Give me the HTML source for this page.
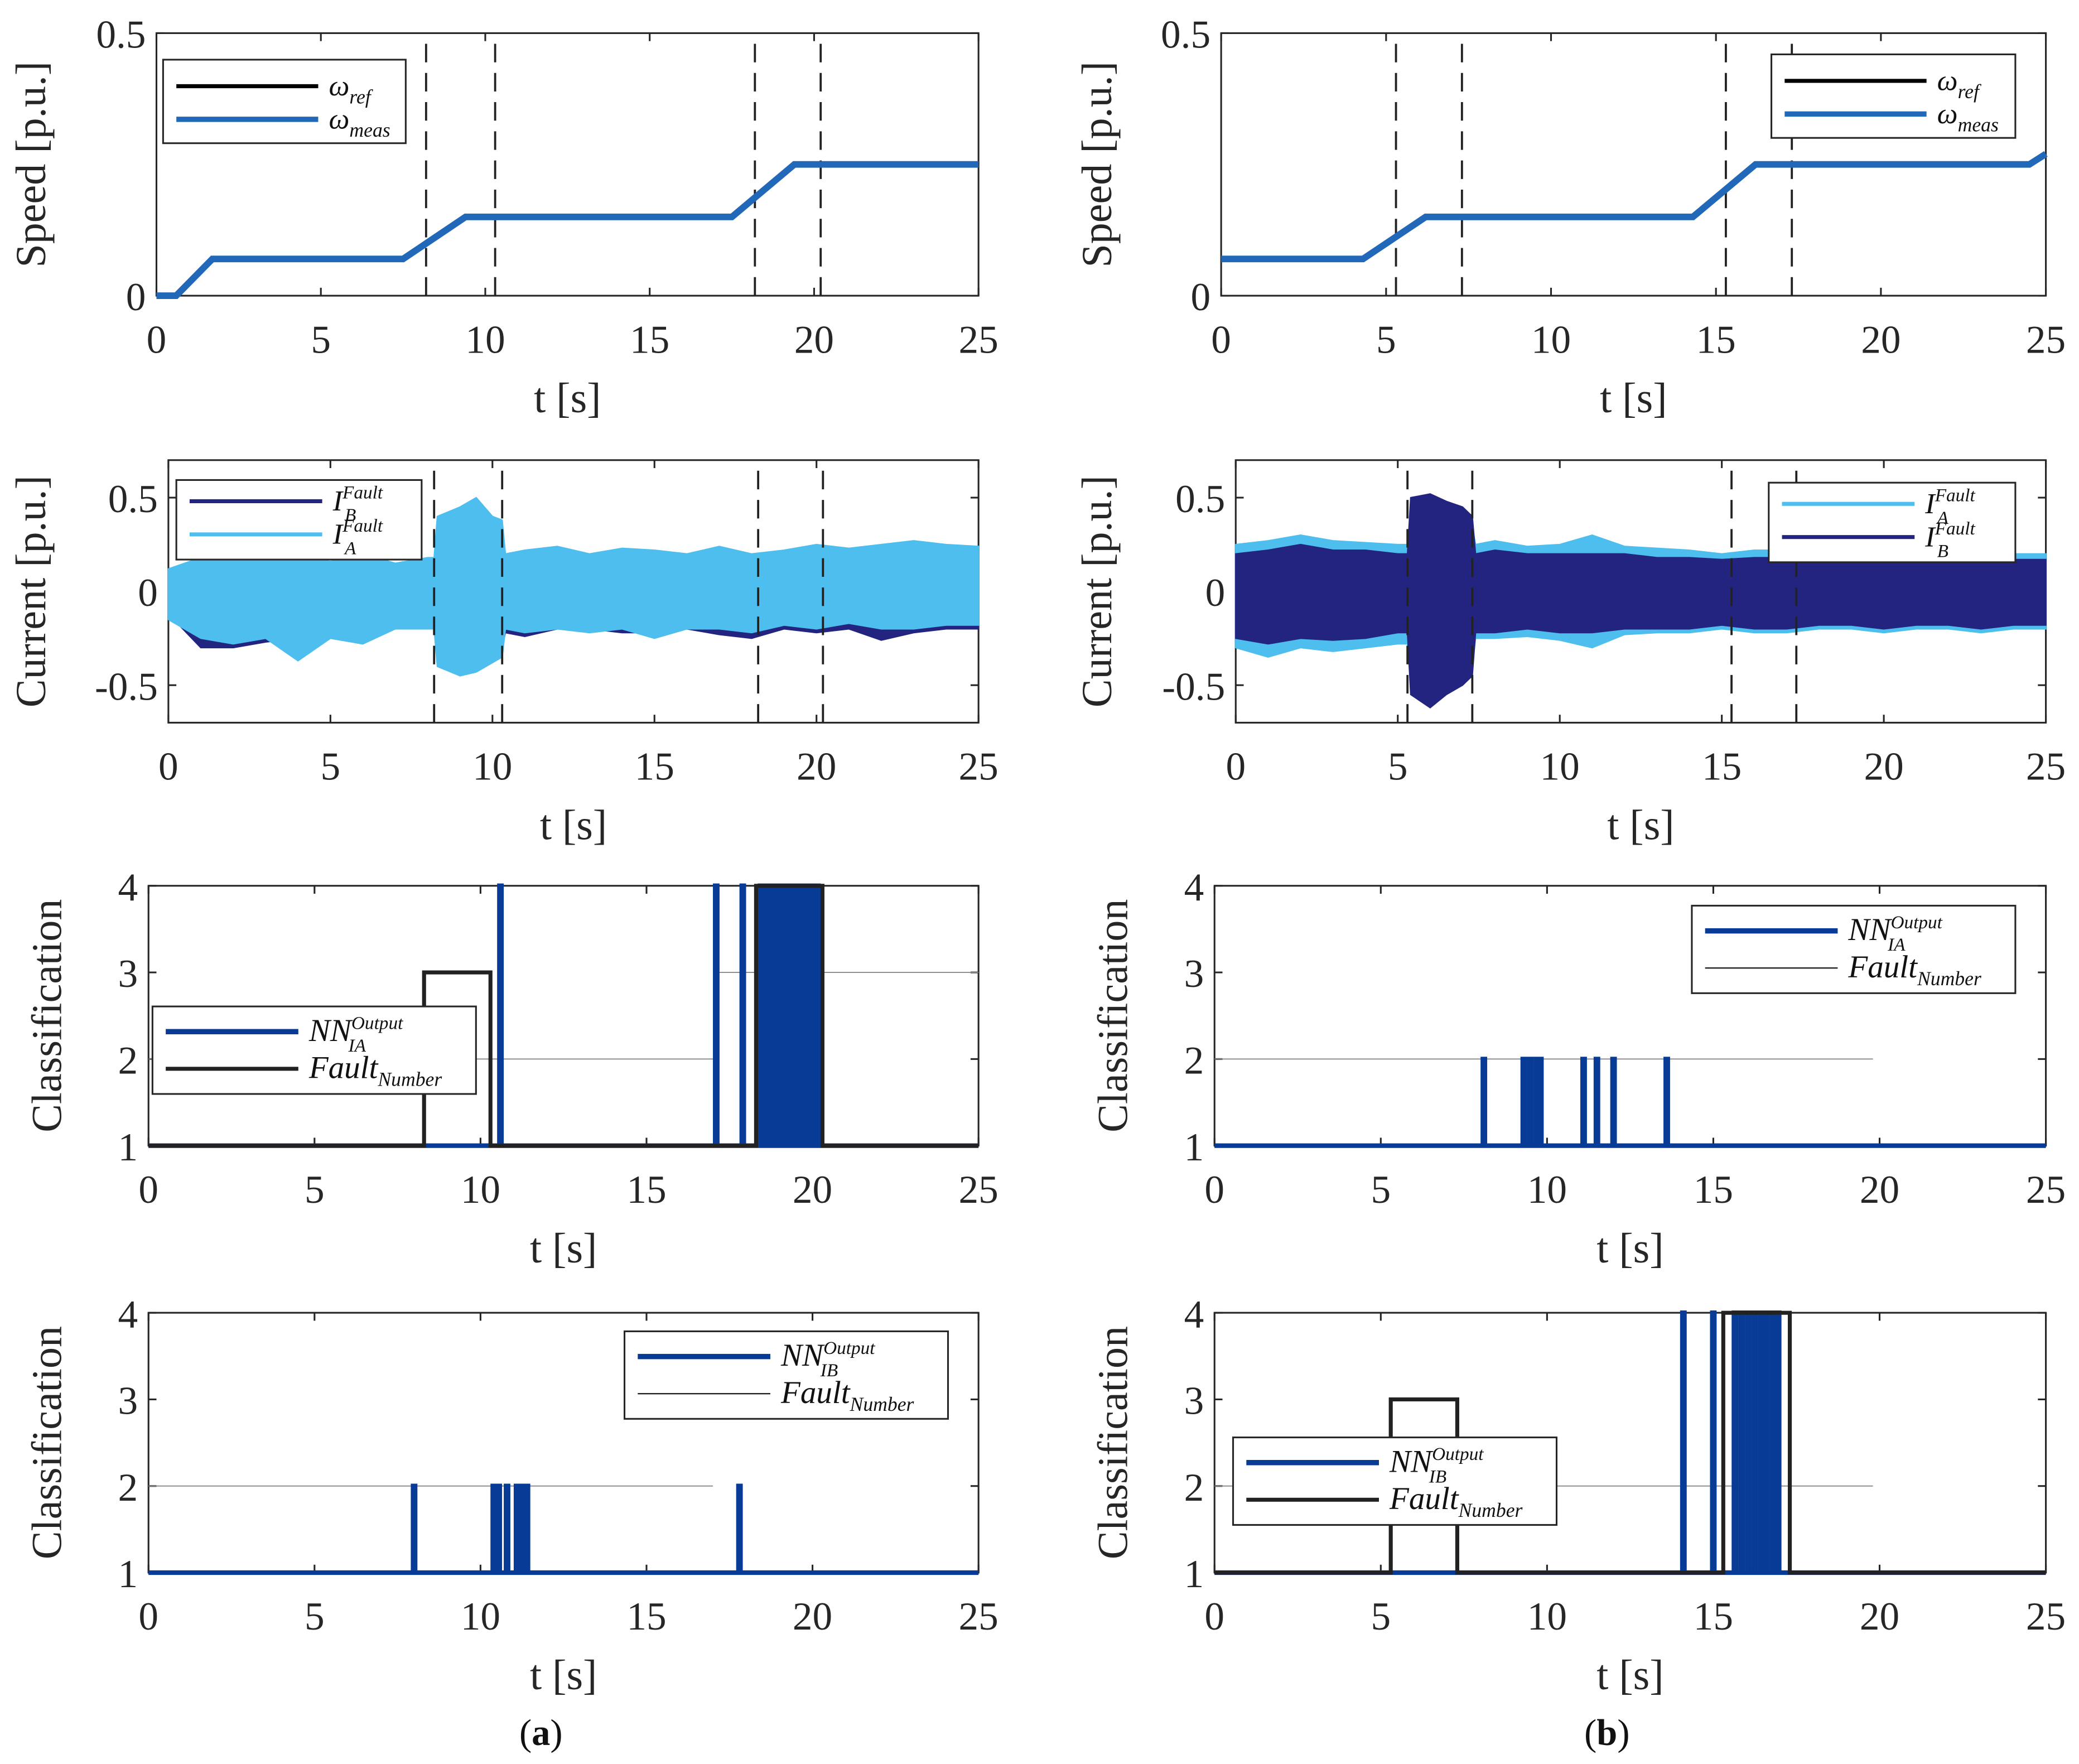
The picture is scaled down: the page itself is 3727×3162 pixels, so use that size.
<!DOCTYPE html>
<html><head><meta charset="utf-8"><style>
html,body{margin:0;padding:0;background:#fff;}
svg{display:block;font-family:"Liberation Serif",serif;}
</style></head><body>
<svg id="fig" xmlns="http://www.w3.org/2000/svg" width="3727" height="3162" viewBox="0 0 1568 1330.3"></svg>
<script>
// ---------- data ----------
const speedA_t = [0,0.6,1.7,7.5,9.4,17.5,19.4,25];
const speedA_v = [0,0,0.07,0.07,0.15,0.15,0.25,0.25];
const speedB_t = [0,4.3,6.2,14.3,16.2,24.5,25];
const speedB_v = [0.07,0.07,0.15,0.15,0.25,0.25,0.27];
const faultLinesA = [8.2,10.3,18.2,20.2];
const faultLinesB = [5.3,7.3,15.3,17.3];

const curA_t = [0,1,2,3,4,5,6,7,8,8.2,8.3,9,9.5,10,10.3,10.4,11,12,13,14,15,16,17,18,19,20,21,22,23,24,25];
const curA_IA_up = [0.12,0.18,0.2,0.17,0.19,0.16,0.2,0.15,0.18,0.18,0.4,0.45,0.5,0.4,0.38,0.2,0.22,0.24,0.2,0.23,0.22,0.2,0.24,0.2,0.22,0.25,0.23,0.25,0.27,0.25,0.24];
const curA_IA_lo = [-0.15,-0.25,-0.28,-0.25,-0.37,-0.25,-0.28,-0.2,-0.2,-0.2,-0.4,-0.45,-0.43,-0.38,-0.35,-0.2,-0.22,-0.2,-0.22,-0.2,-0.25,-0.2,-0.2,-0.22,-0.18,-0.2,-0.17,-0.2,-0.2,-0.18,-0.18];
const curA_IB_up = [0.1,0.14,0.15,0.13,0.14,0.12,0.15,0.12,0.14,0.14,0.3,0.35,0.35,0.3,0.3,0.16,0.18,0.2,0.18,0.19,0.18,0.18,0.2,0.19,0.2,0.22,0.2,0.21,0.22,0.2,0.2];
const curA_IB_lo = [-0.12,-0.3,-0.3,-0.27,-0.25,-0.22,-0.25,-0.2,-0.18,-0.18,-0.3,-0.35,-0.35,-0.3,-0.3,-0.22,-0.24,-0.2,-0.2,-0.22,-0.22,-0.2,-0.23,-0.25,-0.2,-0.22,-0.2,-0.26,-0.22,-0.2,-0.2];

const curB_t = [0,1,2,3,4,5,5.3,5.4,6,6.5,7,7.3,7.4,8,9,10,11,12,13,14,15,16,17,18,19,20,21,22,23,24,25];
const curB_IA_up = [0.25,0.27,0.3,0.27,0.26,0.25,0.25,0.4,0.45,0.4,0.38,0.35,0.25,0.27,0.24,0.25,0.3,0.24,0.23,0.22,0.2,0.22,0.22,0.2,0.2,0.22,0.21,0.2,0.22,0.2,0.2];
const curB_IA_lo = [-0.3,-0.35,-0.3,-0.32,-0.3,-0.28,-0.28,-0.45,-0.5,-0.45,-0.42,-0.4,-0.25,-0.25,-0.24,-0.26,-0.3,-0.23,-0.22,-0.22,-0.2,-0.22,-0.22,-0.2,-0.2,-0.22,-0.2,-0.2,-0.22,-0.2,-0.2];
const curB_IB_up = [0.2,0.22,0.25,0.22,0.22,0.2,0.2,0.5,0.52,0.48,0.45,0.4,0.2,0.22,0.2,0.2,0.2,0.2,0.18,0.18,0.17,0.18,0.18,0.17,0.17,0.18,0.17,0.17,0.18,0.17,0.17];
const curB_IB_lo = [-0.25,-0.28,-0.25,-0.26,-0.25,-0.22,-0.22,-0.55,-0.62,-0.55,-0.5,-0.45,-0.22,-0.22,-0.2,-0.22,-0.22,-0.2,-0.2,-0.2,-0.18,-0.2,-0.2,-0.18,-0.18,-0.2,-0.18,-0.18,-0.2,-0.18,-0.18];

const faultA3_t = [0,8.3,8.3,10.3,10.3,18.3,18.3,20.3,20.3,25];
const faultA3_v = [1,1,3,3,1,1,4,4,1,1];
const nnA3_spikes = [10.6,17.1,17.9,18.45,18.6,18.75,18.9,19.05,19.15,19.3,19.45,19.55,19.7,19.9,20.05,20.15];
const nnA3_level = 4;
const faultB3_t = [0,25];
const faultB3_v = [1,1];
const nnB3_spikes = [8.1,9.3,9.5,9.7,9.8,11.1,11.5,12.0,13.6];
const nnB3_level = 2;
const faultA4_t = [0,25];
const faultA4_v = [1,1];
const nnA4_spikes = [8.0,10.4,10.55,10.8,11.1,11.3,11.4,17.8];
const nnA4_level = 2;
const faultB4_t = [0,5.3,5.3,7.3,7.3,15.3,15.3,17.3,17.3,25];
const faultB4_v = [1,1,3,3,1,1,4,4,1,1];
const nnB4_spikes = [14.1,15.0,15.65,15.85,16.05,16.25,16.45,16.6,16.8,16.95];
const nnB4_level = 4;

const xTicks = [0,5,10,15,20,25];
const speedTicks = [0,0.5];
const curTicks = [-0.5,0,0.5];
const clsTicks = [1,2,3,4];

// ---------- helpers ----------
const NS = "http://www.w3.org/2000/svg";
const svg = document.getElementById('fig');
function el(tag, attrs, parent){
  const e = document.createElementNS(NS, tag);
  for (const k in attrs) e.setAttribute(k, attrs[k]);
  (parent||svg).appendChild(e);
  return e;
}
function makeAxes(name, x0, x1, y0, y1, ymin, ymax){
  const g = el('g', {});
  
  
  const sx = v => x0 + (v-0)/(25-0)*(x1-x0);
  const sy = v => y1 - (v-ymin)/(ymax-ymin)*(y1-y0);
  return {g, sx, sy, x0, x1, y0, y1};
}
function frame(ax, yticks, ylabels, ylabelText, ylabelX){
  const {g, x0, x1, y0, y1, sx, sy} = ax;
  const box = el('rect', {x:x0, y:y0, width:x1-x0, height:y1-y0, fill:'none', stroke:'#262626', 'stroke-width':1.3}, g);
  
  
  xTicks.forEach(t => {
    const x = sx(t);
    el('line', {x1:x, x2:x, y1:y1, y2:y1-6, stroke:'#262626', 'stroke-width':1.3}, g);
    el('line', {x1:x, x2:x, y1:y0, y2:y0+6, stroke:'#262626', 'stroke-width':1.3}, g);
    const tl = el('text', {x:x, y:y1+43, 'font-size':30, 'text-anchor':'middle', fill:'#262626'}, g);
    tl.textContent = t;
    
    
  });
  yticks.forEach((t,i) => {
    const y = sy(t);
    el('line', {x1:x0, x2:x0+6, y1:y, y2:y, stroke:'#262626', 'stroke-width':1.3}, g);
    el('line', {x1:x1, x2:x1-6, y1:y, y2:y, stroke:'#262626', 'stroke-width':1.3}, g);
    const tl = el('text', {x:x0-8, y:y+11, 'font-size':30, 'text-anchor':'end', fill:'#262626'}, g);
    tl.textContent = ylabels[i];
    
    
  });
  const xl = el('text', {x:(x0+x1)/2, y:y1+88, 'font-size':32, 'text-anchor':'middle', fill:'#262626'}, g);
  xl.textContent = 't  [s]';
  
  
  const cy = (y0+y1)/2;
  const yl = el('text', {x:ylabelX, y:cy, 'font-size':32, 'text-anchor':'middle', fill:'#262626', transform:`rotate(-90 ${ylabelX} ${cy})`}, g);
  yl.textContent = ylabelText;
  
  
}
function linePath(ax, ts, vs){
  return ts.map((t,i)=> (i?'L':'M') + ax.sx(t).toFixed(2) + ',' + ax.sy(vs[i]).toFixed(2)).join(' ');
}
function bandPath(ax, ts, up, lo){
  let d = ts.map((t,i)=> (i?'L':'M') + ax.sx(t).toFixed(2)+','+ax.sy(up[i]).toFixed(2)).join(' ');
  for (let i=ts.length-1;i>=0;i--) d += ' L'+ax.sx(ts[i]).toFixed(2)+','+ax.sy(lo[i]).toFixed(2);
  return d + ' Z';
}
function spikePath(ax, spikes, level){
  let d = 'M'+ax.sx(0)+','+ax.sy(1);
  spikes.forEach(t => {
    d += ' L'+ax.sx(t-0.03).toFixed(2)+','+ax.sy(1)+' L'+ax.sx(t-0.03).toFixed(2)+','+ax.sy(level)+' L'+ax.sx(t+0.03).toFixed(2)+','+ax.sy(level)+' L'+ax.sx(t+0.03).toFixed(2)+','+ax.sy(1);
  });
  return d + ' L'+ax.sx(25)+','+ax.sy(1);
}
function dashed(ax, lines){
  lines.forEach(t => {
    const l = el('line', {x1:ax.sx(t), x2:ax.sx(t), y1:ax.y0+8, y2:ax.y1, stroke:'#222', 'stroke-width':1.6, 'stroke-dasharray':'14,8'}, ax.g);
    
    
  });
}
function legend(x, y, w, h, entries){
  const g = el('g', {});
  
  
  el('rect', {x:x, y:y, width:w, height:h, fill:'#fff', stroke:'#262626', 'stroke-width':1.3}, g);
  entries.forEach(e => {
    const ln = el('line', {x1:x+10, x2:x+e.len, y1:e.y, y2:e.y, stroke:e.color, 'stroke-width':e.sw}, g);
    
    
    const tx = x+e.len+8;
    const t = el('text', {x:tx, y:e.y+7, 'font-size':e.fs||22, 'font-style':'italic', fill:'#111'}, g);
    
    
    const a = el('tspan', {}, t); a.textContent = e.main;
    if (e.sup){
      const s = el('tspan', {dy:-9, 'font-size':14}, t); s.textContent = e.sup;
      const mw = e.main.length*(e.fs ? e.fs*0.62 : 9);
      const s2 = el('tspan', {x:tx+mw, dy:17, 'font-size':14}, t); s2.textContent = e.sub;
    }
    else if (e.sub){ const s = el('tspan', {dy:6, 'font-size':15}, t); s.textContent = e.sub; }
  });
}

// ---------- speed ----------
[['a',118,738,speedA_t,speedA_v,faultLinesA,[123,45,183,63]],['b',921,1543,speedB_t,speedB_v,faultLinesB,[1336,41,184,63]]].forEach(p=>{
  const ax = makeAxes('speed-chart-'+p[0], p[1], p[2], 25, 223, 0, 0.5);
  frame(ax, speedTicks, ['0','0.5'], 'Speed [p.u.]', p[0]==='a'?34:838);
  dashed(ax, p[5]);
  const r = el('path', {d:linePath(ax,p[3],p[4]), fill:'none', stroke:'#000', 'stroke-width':2}, ax.g);
   
  const m = el('path', {d:linePath(ax,p[3],p[4]), fill:'none', stroke:'#2268b8', 'stroke-width':5}, ax.g);
   
  const L = p[6];
  legend(L[0],L[1],L[2],L[3],[{y:L[1]+20,len:117,color:'#000',sw:3,main:'ω',sub:'ref'},{y:L[1]+45,len:117,color:'#2268b8',sw:4,main:'ω',sub:'meas'}]);
});

// ---------- current ----------
{
  const ax = makeAxes('current-chart-a', 127, 738, 347, 545, -0.7, 0.7);
  frame(ax, curTicks, ['-0.5','0','0.5'], 'Current [p.u.]', 34);
  const b = el('path', {d:bandPath(ax,curA_t,curA_IB_up,curA_IB_lo), fill:'#232480', stroke:'#232480', 'stroke-width':1}, ax.g);
   
  const a = el('path', {d:bandPath(ax,curA_t,curA_IA_up,curA_IA_lo), fill:'#4dbeee', stroke:'#4dbeee', 'stroke-width':1}, ax.g);
   
  dashed(ax, faultLinesA);
  legend(133,362,185,60,[{y:378,len:110,color:'#232480',sw:3,main:'I',sup:'Fault',sub:'B'},{y:403,len:110,color:'#4dbeee',sw:3,main:'I',sup:'Fault',sub:'A'}]);
}
{
  const ax = makeAxes('current-chart-b', 932, 1543, 347, 545, -0.7, 0.7);
  frame(ax, curTicks, ['-0.5','0','0.5'], 'Current [p.u.]', 838);
  const a = el('path', {d:bandPath(ax,curB_t,curB_IA_up,curB_IA_lo), fill:'#4dbeee', stroke:'#4dbeee', 'stroke-width':1}, ax.g);
   
  const b = el('path', {d:bandPath(ax,curB_t,curB_IB_up,curB_IB_lo), fill:'#232480', stroke:'#232480', 'stroke-width':1}, ax.g);
   
  dashed(ax, faultLinesB);
  legend(1334,364,186,60,[{y:380,len:110,color:'#4dbeee',sw:3,main:'I',sup:'Fault',sub:'A'},{y:405,len:110,color:'#232480',sw:3,main:'I',sup:'Fault',sub:'B'}]);
}

// ---------- classification ----------
function clsPlot(name, x0, x1, y0, y1, ylx, ft, fv, spikes, level, grey, faultOnTop, leg, sub){
  const ax = makeAxes(name, x0, x1, y0, y1, 1, 4);
  frame(ax, clsTicks, ['1','2','3','4'], 'Classification', ylx);
  grey.forEach(gz => {
    const l = el('line', {x1:ax.sx(gz[0]), x2:ax.sx(gz[1]), y1:ax.sy(gz[2]), y2:ax.sy(gz[2]), stroke:'#888', 'stroke-width':0.8}, ax.g);
     
  });
  const drawF = () => { const f = el('path', {d:linePath(ax,ft,fv), fill:'none', stroke:'#222', 'stroke-width':3}, ax.g);
      };
  const drawN = () => { const n = el('path', {d:spikePath(ax,spikes,level), fill:'none', stroke:'#083b96', 'stroke-width':3.5, 'stroke-linejoin':'miter'}, ax.g);
      };
  if (faultOnTop){ drawN(); drawF(); } else { drawF(); drawN(); }
  legend(leg[0],leg[1],244,66,[{y:leg[1]+19,len:110,color:'#083b96',sw:4,main:'NN',sup:'Output',sub:sub,fs:24},{y:leg[1]+47,len:110,color:'#222',sw:leg[2],main:'Fault',sub:'Number',fs:24}]);
}
clsPlot('classification-chart-a-ia',112,738,668,864,46,faultA3_t,faultA3_v,nnA3_spikes,nnA3_level,[[0,17,2],[17,25,3]],true,[115,759,3],'IA');
clsPlot('classification-chart-b-ia',916,1543,668,864,850,faultB3_t,faultB3_v,nnB3_spikes,nnB3_level,[[0,19.8,2]],false,[1276,683,1],'IA');
clsPlot('classification-chart-a-ib',112,738,990,1186,46,faultA4_t,faultA4_v,nnA4_spikes,nnA4_level,[[0,17,2]],false,[471,1004,1],'IB');
clsPlot('classification-chart-b-ib',916,1543,990,1186,850,faultB4_t,faultB4_v,nnB4_spikes,nnB4_level,[[0,19.8,2]],true,[930,1084,3],'IB');

// subfigure captions
[['(a)',408,'caption-a'],['(b)',1212,'caption-b']].forEach(c=>{
  const t = el('text', {x:c[1], y:1316, 'font-size':28, 'text-anchor':'middle', fill:'#111'});
  const s = el('tspan', {}, t); s.textContent='(';
  const b = el('tspan', {'font-weight':'bold'}, t); b.textContent=c[0][1];
  const e = el('tspan', {}, t); e.textContent=')';
  
  
});
</script>
</body></html>
